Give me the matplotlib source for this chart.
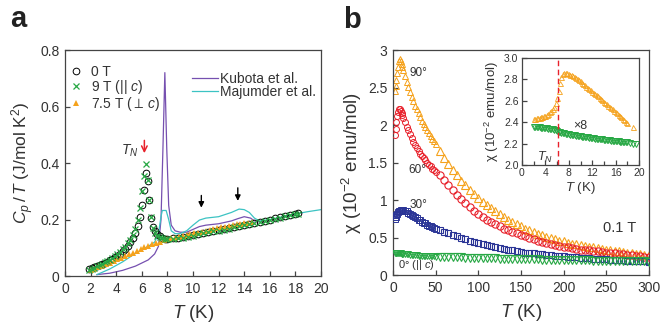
import numpy as np
import matplotlib.pyplot as plt

plt.rcParams['font.family'] = ['Liberation Sans', 'DejaVu Sans']
plt.rcParams['mathtext.fontset'] = 'custom'
plt.rcParams['mathtext.rm'] = 'Liberation Sans'
plt.rcParams['mathtext.it'] = 'Liberation Sans:italic'
plt.rcParams['mathtext.bf'] = 'Liberation Sans:bold'
plt.rcParams['mathtext.fallback'] = 'stixsans'

# ---- panel a : specific heat ----
T_0T = [1.9, 2.1, 2.3, 2.5, 2.7, 2.9, 3.1, 3.3, 3.5, 3.7, 3.9, 4.1, 4.3, 4.5, 4.7, 4.9,
        5.1, 5.3, 5.5, 5.7, 5.85, 6.0, 6.15, 6.3, 6.45, 6.6, 6.75, 6.9, 7.05, 7.2, 7.4,
        7.6, 7.8, 8.0, 8.4, 8.8, 9.2, 9.6, 10.0, 10.4, 10.8, 11.2, 11.6, 12.0, 12.4,
        12.8, 13.2, 13.6, 14.0, 14.4, 14.8, 15.2, 15.6, 16.0, 16.4, 16.8, 17.2, 17.6,
        18.0, 18.2]
C_0T = [0.025, 0.028, 0.031, 0.034, 0.038, 0.042, 0.046, 0.050, 0.055, 0.060, 0.066,
        0.072, 0.079, 0.087, 0.096, 0.107, 0.119, 0.134, 0.152, 0.178, 0.21, 0.25,
        0.305, 0.365, 0.335, 0.27, 0.205, 0.175, 0.158, 0.147, 0.140, 0.135, 0.132,
        0.131, 0.133, 0.135, 0.138, 0.141, 0.145, 0.149, 0.153, 0.157, 0.160, 0.163,
        0.166, 0.169, 0.173, 0.177, 0.180, 0.184, 0.188, 0.192, 0.196, 0.200, 0.204,
        0.208, 0.212, 0.216, 0.220, 0.222]
C_9T = [0.022, 0.026, 0.030, 0.034, 0.038, 0.043, 0.048, 0.053, 0.058, 0.064, 0.070,
        0.077, 0.085, 0.094, 0.104, 0.116, 0.129, 0.145, 0.165, 0.20, 0.24, 0.30,
        0.355, 0.395, 0.34, 0.27, 0.21, 0.17, 0.152, 0.143, 0.138, 0.133, 0.131,
        0.130, 0.131, 0.133, 0.136, 0.139, 0.143, 0.147, 0.151, 0.155, 0.158, 0.161,
        0.164, 0.168, 0.172, 0.176, 0.179, 0.183, 0.187, 0.191, 0.195, 0.199, 0.203,
        0.207, 0.211, 0.215, 0.219, 0.221]
T_75T = [2.0, 2.3, 2.6, 2.9, 3.2, 3.5, 3.8, 4.1, 4.4, 4.7, 5.0, 5.3, 5.6, 5.9, 6.2,
         6.5, 6.8, 7.1, 7.4, 7.7, 8.0, 8.3, 8.6, 8.9, 9.2, 9.5, 9.8, 10.1, 10.4, 10.7,
         11.0, 11.3, 11.6, 11.9, 12.2, 12.5, 12.8, 13.1, 13.4, 13.7, 14.0, 14.3, 14.6]
C_75T = [0.020, 0.025, 0.031, 0.036, 0.042, 0.047, 0.053, 0.059, 0.065, 0.071, 0.077,
         0.083, 0.089, 0.095, 0.101, 0.107, 0.113, 0.118, 0.122, 0.126, 0.130, 0.133,
         0.136, 0.139, 0.142, 0.145, 0.148, 0.151, 0.154, 0.157, 0.160, 0.163, 0.166,
         0.169, 0.172, 0.175, 0.178, 0.180, 0.183, 0.185, 0.187, 0.189, 0.191]
T_kub = [2.5, 3.5, 4.5, 5.5, 6.5, 7.0, 7.3, 7.5, 7.65, 7.8, 7.95, 8.1, 8.3, 8.6, 9.0,
         9.5, 10.0, 10.5, 11.0, 12.0, 13.0, 13.5, 14.0, 14.5, 14.8, 15.2]
C_kub = [0.005, 0.010, 0.020, 0.035, 0.057, 0.078, 0.105, 0.20, 0.45, 0.72, 0.45,
         0.25, 0.18, 0.16, 0.155, 0.155, 0.165, 0.175, 0.18, 0.185, 0.195, 0.203,
         0.21, 0.205, 0.195, 0.192]
T_maj = [2.5, 3.5, 4.5, 5.5, 6.5, 7.0, 7.3, 7.5, 7.6, 7.9, 8.1, 8.3, 8.6, 9.0, 9.5,
         10.0, 10.5, 11.0, 12.0, 13.0, 13.6, 14.0, 14.4, 14.8, 15.2, 16.0, 17.0, 18.0,
         19.0, 20.0]
C_maj = [0.005, 0.025, 0.05, 0.08, 0.105, 0.12, 0.15, 0.21, 0.232, 0.232, 0.20, 0.16,
         0.15, 0.15, 0.16, 0.18, 0.198, 0.205, 0.21, 0.225, 0.237, 0.235, 0.225, 0.205,
         0.195, 0.20, 0.21, 0.22, 0.228, 0.235]

# ---- panel b : susceptibility ----
T_lo = [2, 3, 4, 5, 6, 7, 8, 9, 10, 11, 12, 14, 16, 18, 20, 22, 24, 26, 28, 30, 32,
        34, 36, 38, 40, 42, 44, 46, 48, 50]
T_hi = list(range(55, 305, 5))
chi90_lo = [2.45, 2.52, 2.60, 2.69, 2.78, 2.86, 2.88, 2.86, 2.82, 2.78, 2.74, 2.66,
            2.58, 2.51, 2.44, 2.38, 2.32, 2.26, 2.21, 2.16, 2.11, 2.06, 2.02, 1.98,
            1.94, 1.90, 1.86, 1.82, 1.79, 1.75]
chi90_hi = [1.65, 1.56, 1.48, 1.40, 1.33, 1.26, 1.20, 1.14, 1.08, 1.03, 0.98, 0.93,
            0.89, 0.85, 0.81, 0.77, 0.74, 0.71, 0.68, 0.65, 0.62, 0.60, 0.57, 0.55,
            0.53, 0.51, 0.49, 0.48, 0.46, 0.45, 0.43, 0.42, 0.41, 0.40, 0.39, 0.38,
            0.37, 0.36, 0.35, 0.34, 0.33, 0.32, 0.315, 0.305, 0.30, 0.29, 0.285,
            0.275, 0.27, 0.265]
chi60_lo = [1.87, 1.95, 2.04, 2.12, 2.18, 2.21, 2.21, 2.19, 2.16, 2.13, 2.10, 2.04,
            1.98, 1.93, 1.88, 1.83, 1.78, 1.74, 1.70, 1.66, 1.62, 1.59, 1.56, 1.53,
            1.50, 1.47, 1.45, 1.42, 1.40, 1.38]
chi60_hi = [1.34, 1.27, 1.20, 1.13, 1.07, 1.01, 0.96, 0.91, 0.86, 0.82, 0.78, 0.74,
            0.71, 0.68, 0.65, 0.62, 0.60, 0.58, 0.56, 0.54, 0.52, 0.50, 0.48, 0.46,
            0.445, 0.43, 0.415, 0.40, 0.39, 0.38, 0.37, 0.36, 0.35, 0.34, 0.335, 0.33,
            0.32, 0.315, 0.305, 0.30, 0.295, 0.29, 0.28, 0.275, 0.27, 0.265, 0.26,
            0.25, 0.245, 0.24]
chi30_lo = [0.75, 0.78, 0.80, 0.82, 0.84, 0.85, 0.86, 0.87, 0.87, 0.87, 0.87, 0.86,
            0.85, 0.83, 0.82, 0.80, 0.79, 0.77, 0.76, 0.74, 0.73, 0.71, 0.70, 0.69,
            0.67, 0.66, 0.65, 0.64, 0.63, 0.62]
chi30_hi = [0.60, 0.58, 0.56, 0.54, 0.52, 0.50, 0.48, 0.46, 0.44, 0.43, 0.41, 0.40,
            0.39, 0.37, 0.36, 0.35, 0.34, 0.33, 0.32, 0.31, 0.30, 0.295, 0.29, 0.28,
            0.275, 0.27, 0.265, 0.26, 0.255, 0.25, 0.245, 0.24, 0.235, 0.23, 0.226,
            0.222, 0.218, 0.215, 0.212, 0.21, 0.205, 0.202, 0.199, 0.196, 0.193, 0.19,
            0.188, 0.185, 0.183, 0.18]
chi0_lo = [0.30, 0.30, 0.30, 0.30, 0.295, 0.29, 0.29, 0.29, 0.285, 0.285, 0.28, 0.28,
           0.275, 0.275, 0.27, 0.27, 0.27, 0.265, 0.265, 0.26, 0.26, 0.26, 0.255,
           0.255, 0.255, 0.25, 0.25, 0.25, 0.25, 0.245]
chi0_hi = [0.245, 0.243, 0.241, 0.239, 0.237, 0.235, 0.233, 0.231, 0.229, 0.227,
           0.226, 0.224, 0.222, 0.221, 0.219, 0.218, 0.216, 0.215, 0.213, 0.212,
           0.211, 0.209, 0.208, 0.207, 0.205, 0.204, 0.203, 0.202, 0.201, 0.2, 0.199,
           0.198, 0.197, 0.196, 0.195, 0.194, 0.193, 0.192, 0.191, 0.19, 0.189, 0.188,
           0.187, 0.186, 0.185, 0.184, 0.183, 0.182, 0.181, 0.18]

# ---- inset (0.25 K steps from 2 to 18 K, plus the last points) ----
T_in = list(np.arange(2.0, 18.01, 0.25)) + [19.0]
chi90_in = [2.43, 2.432, 2.435, 2.437, 2.44, 2.445, 2.45, 2.455, 2.46, 2.47, 2.48,
            2.49, 2.50, 2.52, 2.54, 2.575, 2.62, 2.69, 2.76, 2.82, 2.85, 2.858, 2.86,
            2.856, 2.85, 2.843, 2.835, 2.828, 2.82, 2.81, 2.80, 2.79, 2.78, 2.768,
            2.755, 2.743, 2.73, 2.72, 2.71, 2.698, 2.685, 2.673, 2.66, 2.65, 2.64,
            2.628, 2.615, 2.603, 2.59, 2.578, 2.565, 2.553, 2.54, 2.53, 2.52, 2.508,
            2.495, 2.483, 2.47, 2.458, 2.445, 2.433, 2.42, 2.405, 2.39, 2.35]
T_in_g = list(np.arange(2.0, 18.01, 0.25)) + [18.5, 19.0, 19.5]
chi0_in = [2.355, 2.354, 2.352, 2.351, 2.35, 2.348, 2.347, 2.345, 2.344, 2.342, 2.34,
           2.338, 2.336, 2.333, 2.33, 2.325, 2.32, 2.312, 2.305, 2.301, 2.298, 2.295,
           2.292, 2.29, 2.287, 2.284, 2.282, 2.279, 2.277, 2.274, 2.272, 2.269, 2.267,
           2.265, 2.263, 2.261, 2.259, 2.257, 2.255, 2.253, 2.251, 2.249, 2.247,
           2.245, 2.243, 2.241, 2.24, 2.238, 2.236, 2.234, 2.233, 2.231, 2.23, 2.228,
           2.227, 2.225, 2.224, 2.222, 2.221, 2.219, 2.218, 2.216, 2.215, 2.213,
           2.212, 2.205, 2.2, 2.2]

ORANGE = '#f5a21c'
RED = '#e8212b'
BLUE = '#2b3596'
GREEN = '#27a844'
PURPLE = '#7650b0'
CYAN = '#3cc3c3'
TXT = '#333333'


def style(ax, size=10):
    for s in ax.spines.values():
        s.set_color('#444444')
        s.set_linewidth(0.9)
    ax.tick_params(direction='in', length=3.5, width=0.9, colors='#444444',
                   labelcolor=TXT, labelsize=size, pad=4)


fig = plt.figure(figsize=(6.62, 3.24), dpi=100)

# ================= panel a =================
axa = fig.add_axes([0.0982, 0.1481, 0.3867, 0.6975])
axa.plot(T_kub, C_kub, color=PURPLE, lw=0.9, zorder=1, label='Kubota et al.')
axa.plot(T_maj, C_maj, color=CYAN, lw=0.9, zorder=1, label='Majumder et al.')
h0, = axa.plot(T_0T, C_0T, 'o', mfc='none', mec='black', ms=4.8, mew=0.7,
               zorder=2, label='0 T')
h75, = axa.plot(T_75T, C_75T, '^', color=ORANGE, ms=4.2, mew=0, zorder=3,
                label='7.5 T ($\\perp\\,c$)')
h9, = axa.plot(T_0T, C_9T, 'x', color=GREEN, ms=4.8, mew=0.9, zorder=4,
               label='9 T (|| $c$)')
axa.set_xlim(0, 20)
axa.set_ylim(0, 0.8)
axa.set_xticks(range(0, 21, 2))
axa.set_yticks([0, 0.2, 0.4, 0.6, 0.8])
axa.set_yticklabels(['0', '0.2', '0.4', '0.6', '0.8'])
style(axa)
axa.set_xlabel('$T$ (K)', fontsize=13.5, color=TXT, labelpad=5)
axa.set_ylabel('$C_p\\,/\\,T$ (J/mol K$^2$)', fontsize=12.5, color=TXT, labelpad=3)

leg1 = axa.legend(handles=[h0, h9, h75], loc='upper left', bbox_to_anchor=(-0.018, 0.972),
                  frameon=False, fontsize=10, handlelength=1.0, handletextpad=0.6,
                  labelspacing=-0.05, borderaxespad=0.2)
for t in leg1.get_texts():
    t.set_color(TXT)
axa.add_artist(leg1)
leg2 = axa.legend(handles=axa.lines[:2], loc='upper right', bbox_to_anchor=(1.012, 0.94),
                  frameon=False, fontsize=10, handlelength=1.9, handletextpad=0.12,
                  labelspacing=-0.05, borderaxespad=0.2)
for t in leg2.get_texts():
    t.set_color(TXT)

axa.annotate('', xy=(6.2, 0.425), xytext=(6.2, 0.49),
             arrowprops=dict(arrowstyle='->', color=RED, lw=1.1))
axa.text(5.75, 0.445, '$T_N$', fontsize=10, color=TXT, ha='right', va='center')
axa.annotate('', xy=(10.65, 0.232), xytext=(10.65, 0.295),
             arrowprops=dict(arrowstyle='-|>', color='black', lw=1.0, mutation_scale=8))
axa.annotate('', xy=(13.5, 0.256), xytext=(13.5, 0.322),
             arrowprops=dict(arrowstyle='-|>', color='black', lw=1.0, mutation_scale=8))

# ================= panel b =================
axb = fig.add_axes([0.5937, 0.1512, 0.3863, 0.6944])
axb.plot(T_lo, chi90_lo, '^', mfc='none', mec=ORANGE, ms=4.3, mew=0.7, zorder=2)
axb.plot(T_hi, chi90_hi, '^', mfc='none', mec=ORANGE, ms=5.2, mew=0.8, zorder=2)
axb.plot(T_lo, chi60_lo, 'o', mfc='none', mec=RED, ms=4.3, mew=0.7, zorder=3)
axb.plot(T_hi, chi60_hi, 'o', mfc='none', mec=RED, ms=5.2, mew=0.8, zorder=3)
axb.plot(T_lo, chi30_lo, 's', mfc='none', mec=BLUE, ms=4.3, mew=0.7, zorder=4)
axb.plot(T_hi, chi30_hi, 's', mfc='none', mec=BLUE, ms=4.8, mew=0.8, zorder=4)
axb.plot(T_lo, chi0_lo, 'v', mfc='none', mec=GREEN, ms=3.8, mew=0.7, zorder=5)
axb.plot(T_hi, chi0_hi, 'v', mfc='none', mec=GREEN, ms=5.2, mew=0.8, zorder=5)
axb.set_xlim(0, 300)
axb.set_ylim(0, 3)
axb.set_xticks(range(0, 301, 50))
axb.set_yticks([0, 0.5, 1, 1.5, 2, 2.5, 3])
axb.set_yticklabels(['0', '0.5', '1', '1.5', '2', '2.5', '3'])
style(axb)
axb.set_xlabel('$T$ (K)', fontsize=13.5, color=TXT, labelpad=5)
axb.set_ylabel('χ (10$^{-2}$ emu/mol)', fontsize=13.5, color=TXT, labelpad=3)

axb.text(30, 2.69, '90°', fontsize=8.5, color=TXT, ha='center', va='center')
axb.text(28, 1.40, '60°', fontsize=8.5, color=TXT, ha='center', va='center')
axb.text(30, 0.93, '30°', fontsize=8.5, color=TXT, ha='center', va='center')
axb.text(6, 0.14, '0° (|| $c$)', fontsize=8, color=TXT, ha='left', va='center',
         zorder=6)
axb.text(285, 0.63, '0.1 T', fontsize=10.5, color=TXT, ha='right', va='center')

# ================= inset =================
axi = fig.add_axes([0.7885, 0.4907, 0.1768, 0.3312])
axi.plot(T_in, chi90_in, '^', mfc='none', mec=ORANGE, ms=3.6, mew=0.6)
axi.plot(T_in_g, chi0_in, 'v', mfc='none', mec=GREEN, ms=3.8, mew=0.7)
axi.axvline(6.1, color=RED, lw=1.0, ls=(0, (4, 2.5)))
axi.set_xlim(0, 20)
axi.set_ylim(2.0, 3.0)
axi.set_xticks(range(0, 21, 4))
axi.set_xticks(range(2, 21, 4), minor=True)
axi.set_yticks([2.0, 2.2, 2.4, 2.6, 2.8, 3.0])
axi.set_yticklabels(['2.0', '2.2', '2.4', '2.6', '2.8', '3.0'])
style(axi, size=7.5)
axi.tick_params(pad=2.5)
axi.tick_params(which='minor', direction='in', length=3, width=0.9, colors='#444444')
axi.set_xlabel('$T$ (K)', fontsize=9.5, color=TXT, labelpad=1)
axi.set_ylabel('χ (10$^{-2}$ emu/mol)', fontsize=9.5, color=TXT, labelpad=2)
axi.text(3.9, 2.07, '$T_N$', fontsize=9, color=TXT, ha='center', va='center')
axi.text(9.9, 2.36, '×8', fontsize=9, color=TXT, ha='center', va='center')

fig.text(0.015, 0.917, 'a', fontsize=21, fontweight='bold', color='#222222', va='baseline')
fig.text(0.518, 0.914, 'b', fontsize=21, fontweight='bold', color='#222222', va='baseline')

fig.savefig('out.png', dpi=100)
